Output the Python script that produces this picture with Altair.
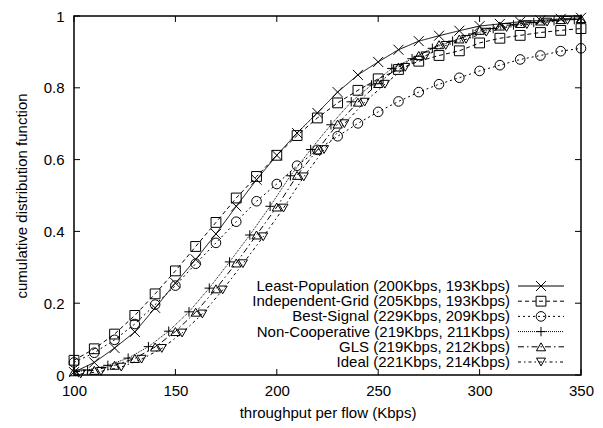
import altair as alt
import pandas as pd

series_names = [
    "Least-Population (200Kbps, 193Kbps)",
    "Independent-Grid (205Kbps, 193Kbps)",
    "Best-Signal (229Kbps, 209Kbps)",
    "Non-Cooperative (219Kbps, 211Kbps)",
    "GLS (219Kbps, 212Kbps)",
    "Ideal (221Kbps, 214Kbps)",
]

grid_x = [100, 110, 120, 130, 140, 150, 160, 170, 180, 190, 200, 210, 220,
          230, 240, 250, 260, 270, 280, 290, 300, 310, 320, 330, 340, 350]

lp_y = [0.008, 0.035, 0.075, 0.12, 0.187, 0.256, 0.322, 0.393, 0.47, 0.544,
        0.612, 0.674, 0.73, 0.788, 0.836, 0.872, 0.906, 0.93, 0.945, 0.959,
        0.972, 0.978, 0.984, 0.988, 0.992, 0.995]
ig_y = [0.041, 0.073, 0.114, 0.166, 0.226, 0.29, 0.358, 0.425, 0.493, 0.553,
        0.612, 0.667, 0.716, 0.758, 0.793, 0.825, 0.851, 0.874, 0.89, 0.903,
        0.925, 0.938, 0.946, 0.954, 0.96, 0.965]
bs_y = [0.035, 0.062, 0.098, 0.142, 0.196, 0.249, 0.31, 0.368, 0.427, 0.484,
        0.532, 0.583, 0.627, 0.665, 0.701, 0.733, 0.762, 0.788, 0.81, 0.828,
        0.847, 0.863, 0.879, 0.89, 0.902, 0.91]
gls_y = [0.009, 0.013, 0.027, 0.046, 0.078, 0.121, 0.175, 0.24, 0.312, 0.39,
         0.468, 0.556, 0.627, 0.699, 0.76, 0.812, 0.858, 0.89, 0.92, 0.936,
         0.96, 0.972, 0.979, 0.986, 0.99, 0.993]

nc_x = [96.7, 106.7, 116.7, 126.7, 136.7, 146.7, 156.7, 166.7, 176.7, 186.7,
        196.7, 206.7, 216.7, 226.7, 236.7, 246.7, 256.7, 266.7, 276.7, 286.7,
        296.7, 306.7, 316.7, 326.7, 336.7, 346.7]
nc_y = [0.005, 0.014, 0.027, 0.047, 0.079, 0.122, 0.176, 0.242, 0.315, 0.39,
        0.47, 0.555, 0.628, 0.697, 0.761, 0.808, 0.854, 0.881, 0.91, 0.93,
        0.95, 0.965, 0.975, 0.982, 0.987, 0.99]

id_x = [103.3, 113.3, 123.3, 133.3, 143.3, 153.3, 163.3, 173.3, 183.3, 193.3,
        203.3, 213.3, 223.3, 233.3, 243.3, 253.3, 263.3, 273.3, 283.3, 293.3,
        303.3, 313.3, 323.3, 333.3, 343.3]
id_y = [0.003, 0.01, 0.022, 0.044, 0.074, 0.117, 0.17, 0.237, 0.31, 0.385,
        0.465, 0.552, 0.628, 0.70, 0.76, 0.81, 0.857, 0.889, 0.918, 0.935,
        0.955, 0.968, 0.976, 0.983, 0.988]

x_ticks = [100, 150, 200, 250, 300, 350]
y_ticks = [0, 0.2, 0.4, 0.6, 0.8, 1]

rows = []
for name, xs_, ys_ in [
    (series_names[0], grid_x, lp_y),
    (series_names[1], grid_x, ig_y),
    (series_names[2], grid_x, bs_y),
    (series_names[3], nc_x, nc_y),
    (series_names[4], grid_x, gls_y),
    (series_names[5], id_x, id_y),
]:
    for xv, yv in zip(xs_, ys_):
        rows.append({"series": name, "x": xv, "y": yv})
df = pd.DataFrame(rows)

W, H = 507, 359
TOP = 8
LEFT = 66
FONT = "Liberation Sans"
FS = 15

dashes = [[1, 0], [4, 3], [2, 3], [1, 1], [6, 3, 1.5, 3], [3, 3, 1.5, 3]]
shapes = ["M-1,-1L1,1M1,-1L-1,1", "square", "circle", "M-1,0L1,0M0,-1L0,1",
          "triangle-up", "triangle-down"]
sizes = [100, 81, 81, 110, 95, 95]

dash_scale = alt.Scale(domain=series_names, range=dashes)
shape_scale = alt.Scale(domain=series_names, range=shapes)
size_scale = alt.Scale(domain=series_names, range=sizes)

xs = alt.Scale(domain=[100, 350], nice=False, zero=False, padding=0)
ys = alt.Scale(domain=[0, 1], nice=False, zero=False, padding=0)

base = alt.Chart(df)

lines = base.mark_line(clip=True, color="black", strokeWidth=1).encode(
    x=alt.X("x:Q", scale=xs,
            axis=alt.Axis(values=x_ticks, title="throughput per flow (Kbps)",
                          format="d", ticks=False, domain=False, grid=False,
                          labelFlush=False,
                          labelPadding=8, titlePadding=7,
                          labelFont=FONT, titleFont=FONT, labelFontSize=FS,
                          titleFontSize=FS, titleFontWeight="normal",
                          labelColor="black", titleColor="black")),
    y=alt.Y("y:Q", scale=ys,
            axis=alt.Axis(values=y_ticks, title="cumulative distribution function",
                          format="~f", ticks=False, domain=False, grid=False,
                          labelFlush=False,
                          labelPadding=10, titlePadding=14,
                          labelFont=FONT, titleFont=FONT, labelFontSize=FS,
                          titleFontSize=FS, titleFontWeight="normal",
                          labelColor="black", titleColor="black")),
    detail="series:N",
    strokeDash=alt.StrokeDash("series:N", scale=dash_scale, legend=None),
)

points = base.mark_point(filled=False, color="black", strokeWidth=1, opacity=1).encode(
    x=alt.X("x:Q", scale=xs),
    y=alt.Y("y:Q", scale=ys),
    shape=alt.Shape("series:N", scale=shape_scale, legend=None),
    size=alt.Size("series:N", scale=size_scale, legend=None),
).transform_filter("datum.x >= 100")

xt = alt.Chart(pd.DataFrame({"t": x_ticks}))
yt = alt.Chart(pd.DataFrame({"t": y_ticks}))
tick_bottom = xt.mark_rule(color="black", strokeWidth=1).encode(
    x=alt.X("t:Q", scale=xs), y=alt.value(H), y2=alt.value(H - 6))
tick_top = xt.mark_rule(color="black", strokeWidth=1).encode(
    x=alt.X("t:Q", scale=xs), y=alt.value(0), y2=alt.value(6))
tick_left = yt.mark_rule(color="black", strokeWidth=1).encode(
    y=alt.Y("t:Q", scale=ys), x=alt.value(0), x2=alt.value(6))
tick_right = yt.mark_rule(color="black", strokeWidth=1).encode(
    y=alt.Y("t:Q", scale=ys), x=alt.value(W), x2=alt.value(W - 6))

leg_df = pd.DataFrame({"series": series_names, "idx": list(range(len(series_names)))})
leg = alt.Chart(leg_df).transform_calculate(ly="270 + 15.2 * datum.idx")
leg_text = leg.mark_text(align="right", baseline="middle", font=FONT,
                         fontSize=FS, color="black").encode(
    x=alt.value(436), y=alt.Y("ly:Q", scale=None), text="series:N")
leg_line = leg.mark_rule(color="black", strokeWidth=1).encode(
    x=alt.value(444), x2=alt.value(490), y=alt.Y("ly:Q", scale=None),
    strokeDash=alt.StrokeDash("series:N", scale=dash_scale, legend=None))
leg_pt = leg.mark_point(filled=False, color="black", strokeWidth=1, opacity=1).encode(
    x=alt.value(467), y=alt.Y("ly:Q", scale=None),
    shape=alt.Shape("series:N", scale=shape_scale, legend=None),
    size=alt.Size("series:N", scale=size_scale, legend=None))

chart = alt.layer(
    lines, points, tick_bottom, tick_top, tick_left, tick_right,
    leg_text, leg_line, leg_pt
).properties(
    width=W, height=H,
    background="white",
    autosize=alt.AutoSizeParams(type="none"),
    padding={"left": LEFT, "top": TOP, "right": 14, "bottom": 50},
).configure_view(
    stroke="black", strokeWidth=1.5
)

chart.save("out.html", embed_options={"renderer": "svg", "actions": False})
